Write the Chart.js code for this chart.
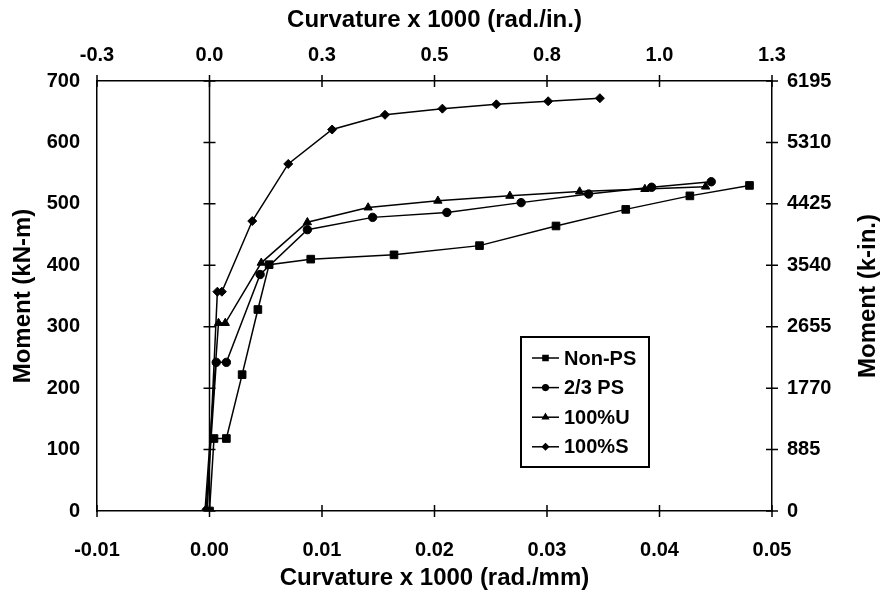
<!DOCTYPE html>
<html>
<head>
<meta charset="utf-8">
<script src="https://cdn.jsdelivr.net/npm/chart.js@4/dist/chart.umd.min.js"></script>
<style>
  html, body { margin: 0; padding: 0; background: #fff; }
  #wrap { width: 881px; height: 590px; position: relative; }
</style>
</head>
<body>
<div id="wrap"><canvas id="c" width="881" height="590"></canvas></div>
<script>
// ---- Data (curvature x1000 in rad./mm, moment in kN-m) ----
const seriesNames = ['Non-PS', '2/3 PS', '100%U', '100%S'];

const curvNonPS = [0.0000, 0.0004, 0.0015, 0.0029, 0.0043, 0.0053, 0.0090, 0.0164, 0.0240, 0.0308, 0.0370, 0.0427, 0.0480];
const momNonPS  = [0, 118, 118, 222, 328, 401, 410, 417, 432, 464, 491, 513, 530];

const curv23PS = [-0.0003, 0.0006, 0.0015, 0.0045, 0.0087, 0.0145, 0.0211, 0.0277, 0.0337, 0.0393, 0.0446];
const mom23PS  = [0, 242, 242, 385, 458, 478, 486, 502, 516, 527, 536];

const curv100U = [-0.0004, 0.0008, 0.0014, 0.0046, 0.0087, 0.0141, 0.0203, 0.0267, 0.0329, 0.0387, 0.0441];
const mom100U  = [0, 306, 306, 404, 470, 494, 505, 513, 520, 524, 528];

const curv100S = [-0.0002, 0.0007, 0.0011, 0.0038, 0.0070, 0.0109, 0.0156, 0.0207, 0.0255, 0.0301, 0.0347];
const mom100S  = [0, 357, 357, 472, 565, 621, 645, 655, 662, 667, 672];

// ---- Tick values & labels ----
const xTickValues = [-0.01, 0.00, 0.01, 0.02, 0.03, 0.04, 0.05];
const bottomTickLabels = ['-0.01', '0.00', '0.01', '0.02', '0.03', '0.04', '0.05'];
const topTickLabels = ['-0.3', '0.0', '0.3', '0.5', '0.8', '1.0', '1.3'];
const yTickValues = [0, 100, 200, 300, 400, 500, 600, 700];
const leftTickLabels = ['0', '100', '200', '300', '400', '500', '600', '700'];
const rightTickLabels = ['0', '885', '1770', '2655', '3540', '4425', '5310', '6195'];

const titleBottom = 'Curvature x 1000 (rad./mm)';
const titleTop = 'Curvature x 1000 (rad./in.)';
const titleLeft = 'Moment (kN-m)';
const titleRight = 'Moment (k-in.)';

// ---- Build datasets ----
const xs = [curvNonPS, curv23PS, curv100U, curv100S];
const ys = [momNonPS, mom23PS, mom100U, mom100S];
const styles = [
  { pointStyle: 'rect', pointRadius: 5.4, legendRadius: 3.6 },
  { pointStyle: 'circle', pointRadius: 4.2, legendRadius: 2.8 },
  { pointStyle: 'triangle', pointRadius: 4.8, legendRadius: 3.2 },
  { pointStyle: 'rectRot', pointRadius: 4.5, legendRadius: 3.0 }
];
const datasets = seriesNames.map((name, i) => ({
  label: name,
  data: xs[i].map((x, j) => ({ x: x, y: ys[i][j] })),
  showLine: true,
  borderColor: '#000',
  backgroundColor: '#000',
  borderWidth: 1.5,
  pointStyle: styles[i].pointStyle,
  pointRadius: styles[i].pointRadius,
  pointBorderWidth: 1,
  pointBackgroundColor: '#000',
  pointBorderColor: '#000',
  legendRadius: styles[i].legendRadius,
  tension: 0
}));

const FONT = "'Liberation Sans', Arial, Helvetica, sans-serif";
const tickFont = { family: FONT, size: 20, weight: 'bold' };
const titleFont = { family: FONT, size: 24, weight: 'bold', lineHeight: 1 };

function fixTicks(values) {
  return function (scale) { scale.ticks = values.map(v => ({ value: v })); };
}

// ---- Plugin: crossing ticks, zero axis line, right title, legend ----
const decorPlugin = {
  id: 'decor',
  afterDraw(chart) {
    const ctx = chart.ctx;
    const xS = chart.scales.x, yS = chart.scales.y;
    const a = chart.chartArea;
    ctx.save();
    ctx.strokeStyle = '#000';
    ctx.lineWidth = 1.5;
    const t = 6;
    // vertical axis at x = 0
    const x0 = xS.getPixelForValue(0);
    ctx.beginPath();
    ctx.moveTo(x0, a.top); ctx.lineTo(x0, a.bottom);
    ctx.stroke();
    ctx.beginPath();
    yTickValues.forEach(v => {
      const py = yS.getPixelForValue(v);
      ctx.moveTo(x0 - t, py); ctx.lineTo(x0 + t, py);
      ctx.moveTo(a.right - t, py); ctx.lineTo(a.right + t, py);
    });
    xTickValues.forEach(v => {
      const px = xS.getPixelForValue(v);
      ctx.moveTo(px, a.bottom - t); ctx.lineTo(px, a.bottom + t);
      ctx.moveTo(px, a.top - t); ctx.lineTo(px, a.top + t);
    });
    ctx.stroke();

    // right title (reads bottom-to-top)
    ctx.fillStyle = '#000';
    ctx.font = 'bold ' + titleFont.size + 'px ' + FONT;
    ctx.textAlign = 'center';
    ctx.textBaseline = 'middle';
    ctx.translate(868, (a.top + a.bottom) / 2);
    ctx.rotate(-Math.PI / 2);
    ctx.fillText(titleRight, 0, 0);
    ctx.restore();

    // legend
    ctx.save();
    const lx = 521, ly = 337, lw = 128, lh = 130;
    ctx.fillStyle = '#fff';
    ctx.fillRect(lx, ly, lw, lh);
    ctx.strokeStyle = '#000';
    ctx.lineWidth = 2;
    ctx.strokeRect(lx, ly, lw, lh);
    ctx.font = 'bold 20px ' + FONT;
    ctx.textAlign = 'left';
    ctx.textBaseline = 'middle';
    chart.data.datasets.forEach((ds, i) => {
      const cy = ly + 21 + i * 29.6;
      ctx.strokeStyle = '#000';
      ctx.lineWidth = 1.5;
      ctx.beginPath();
      ctx.moveTo(532, cy); ctx.lineTo(559, cy);
      ctx.stroke();
      ctx.fillStyle = '#000';
      Chart.helpers.drawPoint(ctx, {
        pointStyle: ds.pointStyle, radius: ds.legendRadius, rotation: 0, borderWidth: 1
      }, 545.5, cy);
      ctx.fillStyle = '#000';
      ctx.fillText(ds.label, 564, cy + 1);
    });
    ctx.restore();
  }
};

new Chart(document.getElementById('c'), {
  type: 'scatter',
  data: { datasets: datasets },
  options: {
    responsive: false,
    animation: false,
    devicePixelRatio: 1,
    layout: { padding: 0 },
    plugins: { legend: { display: false }, tooltip: { enabled: false } },
    scales: {
      x: {
        type: 'linear', position: 'bottom', min: -0.01, max: 0.05,
        afterBuildTicks: fixTicks(xTickValues),
        afterFit(s) { s.height = 79; },
        grid: { display: false, drawTicks: false },
        border: { display: true, color: '#000', width: 1.5 },
        ticks: { color: '#000', font: tickFont, padding: 27, maxRotation: 0, autoSkip: false,
                 callback: (v, i) => bottomTickLabels[i] },
        title: { display: true, text: titleBottom, color: '#000', font: titleFont, padding: { top: 0, bottom: 0 } }
      },
      x2: {
        type: 'linear', position: 'top', min: -0.01, max: 0.05,
        afterBuildTicks: fixTicks(xTickValues),
        afterFit(s) { s.height = 81; },
        grid: { display: false, drawTicks: false },
        border: { display: true, color: '#000', width: 1.5 },
        ticks: { color: '#000', font: tickFont, padding: 14, maxRotation: 0, autoSkip: false,
                 callback: (v, i) => topTickLabels[i] },
        title: { display: true, text: titleTop, color: '#000', font: titleFont, padding: { top: 8, bottom: 0 } }
      },
      y: {
        type: 'linear', position: 'left', min: 0, max: 700,
        afterBuildTicks: fixTicks(yTickValues),
        afterFit(s) { s.width = 97; },
        grid: { display: false, drawTicks: false },
        border: { display: true, color: '#000', width: 1.5 },
        ticks: { color: '#000', font: tickFont, padding: 17, autoSkip: false,
                 callback: (v, i) => leftTickLabels[i] },
        title: { display: true, text: titleLeft, color: '#000', font: titleFont, padding: { top: 11, bottom: 0 } }
      },
      y2: {
        type: 'linear', position: 'right', min: 0, max: 700,
        afterBuildTicks: fixTicks(yTickValues),
        afterFit(s) { s.width = 109; },
        grid: { display: false, drawTicks: false },
        border: { display: true, color: '#000', width: 1.5 },
        ticks: { color: '#000', font: tickFont, padding: 15, autoSkip: false,
                 callback: (v, i) => rightTickLabels[i] }
      }
    }
  },
  plugins: [decorPlugin]
});
</script>
</body>
</html>
